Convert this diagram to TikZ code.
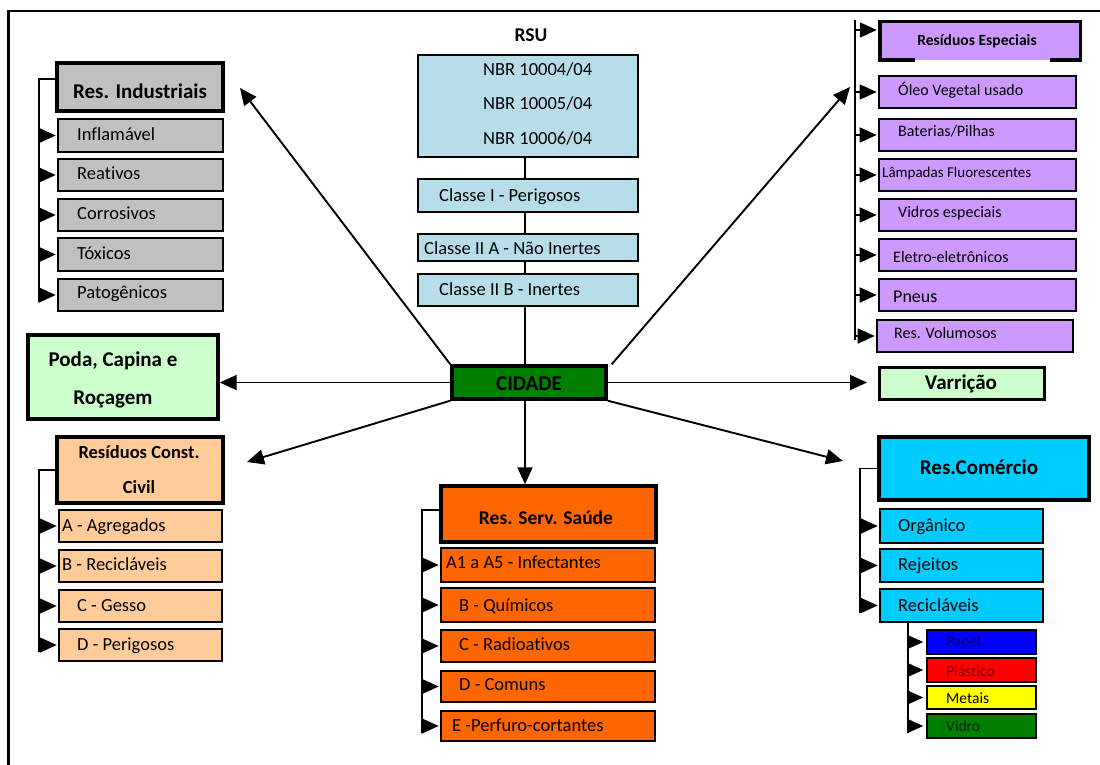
\documentclass[tikz,border=0pt]{standalone}
\usepackage{fontspec}
\setmainfont{Carlito}[Ligatures=NoCommon]
\usetikzlibrary{arrows.meta}
\definecolor{cgray}{HTML}{C0C0C0}
\definecolor{cnbr}{HTML}{B7DEE8}
\definecolor{cgreen}{HTML}{008000}
\definecolor{clgreen}{HTML}{CCFFCC}
\definecolor{cpeach}{HTML}{FFCC99}
\definecolor{corange}{HTML}{FF6600}
\definecolor{cpurple}{HTML}{CC99FF}
\definecolor{ccyan}{HTML}{00CCFF}
\definecolor{cblue}{HTML}{0000FF}
\definecolor{cred}{HTML}{FF0000}
\definecolor{cyellow}{HTML}{FFFF00}
\definecolor{cnavy}{HTML}{00005A}
\definecolor{cdred}{HTML}{700000}
\definecolor{cdgreen}{HTML}{002200}
\newcommand\fr{\fontsize{18.5}{22}\selectfont}
\newcommand\fs{\fontsize{16}{19}\selectfont}
\newcommand\fb{\bfseries\fontsize{21}{25}\selectfont}
\newcommand\mkbox[6]{\node[#6, minimum width=#4pt-#2pt, minimum height=#5pt-#3pt] (#1) at ({(#2+#4)/2},{(#3+#5)/2}) {};}
\newcommand\ltxt[5]{\node[anchor=base west, inner sep=0pt, font=#5] (#1) at (#2,#3) {#4};}
\newcommand\ctxt[5]{\node[anchor=base, inner sep=0pt, font=#5] (#1) at (#2,#3) {#4};}
\tikzset{
  thinbox/.style={draw=black, line width=1.6pt, inner sep=0pt},
  thickbox/.style={draw=black, line width=3.4pt, inner sep=0pt},
  conn/.style={line width=1.9pt, -{Triangle[length=17pt,width=15pt]}},
  brk/.style={line width=1.8pt},
  brarr/.style={line width=1.8pt, -{Triangle[length=17pt,width=15pt]}, shorten >=1.5pt},
  brsmall/.style={line width=1.8pt, -{Triangle[length=16pt,width=14pt]}, shorten >=3pt}
}
\begin{document}
\begin{tikzpicture}[x=1pt,y=-1pt]
\useasboundingbox (0,0) rectangle (1100,765);
\fill[white] (0,0) rectangle (1100,765);
% frame
\draw[line width=2.6pt] (8.5,765) -- (8.5,11) -- (1100,11);

% ---------- Res. Industriais ----------
\mkbox{ind}{57}{63}{223}{111}{thickbox,fill=cgray}
\ctxt{tind}{140}{99}{Res. Industriais}{\fb}
\mkbox{i1}{58}{119}{223}{152}{thinbox,fill=cgray}
\ltxt{ti1}{77}{141}{Inflamável}{\fr}
\mkbox{i2}{58}{159}{223}{191}{thinbox,fill=cgray}
\ltxt{ti2}{77}{179}{Reativos}{\fr}
\mkbox{i3}{58}{199}{223}{231}{thinbox,fill=cgray}
\ltxt{ti3}{77}{219}{Corrosivos}{\fr}
\mkbox{i4}{58}{238}{223}{271}{thinbox,fill=cgray}
\ltxt{ti4}{77}{259}{Tóxicos}{\fr}
\mkbox{i5}{58}{279}{223}{311}{thinbox,fill=cgray}
\ltxt{ti5}{77}{298}{Patogênicos}{\fr}
\coordinate (bind) at (39,302);
\draw[brk] ([yshift=8pt]ind.west) -| (bind);
\foreach \n in {i1,i2,i3,i4,i5}{\draw[brarr] (bind |- \n.west) -- (\n.west);}

% ---------- Poda ----------
\mkbox{poda}{28}{335}{218}{419}{thickbox,fill=clgreen}
\ctxt{tpoda1}{113}{366}{Poda, Capina e}{\fb}
\ctxt{tpoda2}{113}{404}{Roçagem}{\fb}

% ---------- Const. Civil ----------
\mkbox{rcc}{57}{437}{223}{503}{thickbox,fill=cpeach}
\ctxt{trcc1}{139}{458}{Resíduos Const.}{\bfseries\fontsize{18.5}{22}\selectfont}
\ctxt{trcc2}{139}{493}{Civil}{\bfseries\fontsize{18.5}{22}\selectfont}
\mkbox{c1}{59}{510}{222}{542}{thinbox,fill=cpeach}
\ltxt{tc1}{62}{531}{A - Agregados}{\fr}
\mkbox{c2}{59}{550}{222}{582}{thinbox,fill=cpeach}
\ltxt{tc2}{62}{570}{B - Recicláveis}{\fr}
\mkbox{c3}{59}{590}{222}{622}{thinbox,fill=cpeach}
\ltxt{tc3}{77}{611}{C - Gesso}{\fr}
\mkbox{c4}{59}{629}{222}{661}{thinbox,fill=cpeach}
\ltxt{tc4}{77}{650}{D - Perigosos}{\fr}
\coordinate (bcc) at (39,652);
\draw[brk] (rcc.west) -| (bcc);
\foreach \n in {c1,c2,c3,c4}{\draw[brarr] (bcc |- \n.west) -- (\n.west);}

% ---------- RSU ----------
\ctxt{trsu}{531}{41.7}{RSU}{\bfseries\fontsize{19.5}{23}\selectfont}
\mkbox{nbr}{418}{55}{638}{157}{thinbox,fill=cnbr}
\ltxt{tn1}{483}{76}{NBR 10004/04}{\fr}
\ltxt{tn2}{483}{110}{NBR 10005/04}{\fr}
\ltxt{tn3}{483}{145}{NBR 10006/04}{\fr}
\mkbox{cid}{452}{366}{606}{399}{thickbox,fill=cgreen}
\ctxt{tcid}{529}{390}{CIDADE}{\fb}
\draw[brk] ([xshift=-3pt]nbr.south) -- ([xshift=-3pt]nbr.south |- cid.north);
\mkbox{k1}{418}{179}{638}{212}{thinbox,fill=cnbr}
\ltxt{tk1}{439}{201.7}{Classe I - Perigosos}{\fr}
\mkbox{k2}{418}{234}{638}{261}{thinbox,fill=cnbr}
\ltxt{tk2}{424}{254}{Classe II A - Não Inertes}{\fr}
\mkbox{k3}{418}{274}{638}{306}{thinbox,fill=cnbr}
\ltxt{tk3}{439}{295}{Classe II B - Inertes}{\fr}

% ---------- Serv. Saude ----------
\mkbox{sau}{441}{486}{656}{542}{thickbox,fill=corange}
\ctxt{tsau}{546}{524}{Res. Serv. Saúde}{\bfseries\fontsize{19.5}{23}\selectfont}
\mkbox{s1}{441}{548}{655}{582}{thinbox,fill=corange}
\ltxt{ts1}{446}{568}{A1 a A5 - Infectantes}{\fr}
\mkbox{s2}{441}{588}{655}{622}{thinbox,fill=corange}
\ltxt{ts2}{459}{611.7}{B - Químicos}{\fr}
\mkbox{s3}{441}{630}{655}{662}{thinbox,fill=corange}
\ltxt{ts3}{459}{650}{C - Radioativos}{\fr}
\mkbox{s4}{441}{671}{655}{702}{thinbox,fill=corange}
\ltxt{ts4}{459}{690}{D - Comuns}{\fr}
\mkbox{s5}{441}{711}{655}{741}{thinbox,fill=corange}
\ltxt{ts5}{452}{731.7}{E -Perfuro-cortantes}{\fr}
\coordinate (bsau) at (422,733);
\draw[brk] ([yshift=4pt]sau.west) -| (bsau);
\foreach \n in {s1,s2,s3,s4,s5}{\draw[brarr] (bsau |- \n.west) -- (\n.west);}

% ---------- Residuos Especiais ----------
\mkbox{esp}{880}{22}{1080}{60}{inner sep=0pt,fill=cpurple}
\draw[line width=3.4pt] ([xshift=35pt]esp.south west) -- (esp.south west) -- (esp.north west) -- (esp.north east) -- (esp.south east) -- ([xshift=-30pt]esp.south east);
\ctxt{tesp}{977}{46}{Resíduos Especiais}{\bfseries\fontsize{15.6}{19}\selectfont}
\mkbox{p1}{879}{76}{1076}{108}{thinbox,fill=cpurple}
\ltxt{tp1}{898}{96}{Óleo Vegetal usado}{\fs}
\mkbox{p2}{879}{119}{1076}{151}{thinbox,fill=cpurple}
\ltxt{tp2}{898}{137}{Baterias/Pilhas}{\fs}
\mkbox{p3}{879}{159}{1076}{191}{thinbox,fill=cpurple}
\ltxt{tp3}{882}{177}{Lâmpadas Fluorescentes}{\fontsize{15}{18}\selectfont}
\mkbox{p4}{879}{199}{1076}{231}{thinbox,fill=cpurple}
\ltxt{tp4}{898}{217}{Vidros especiais}{\fs}
\mkbox{p5}{879}{239}{1076}{271}{thinbox,fill=cpurple}
\ltxt{tp5}{893}{262}{Eletro-eletrônicos}{\fs}
\mkbox{p6}{879}{279}{1076}{311}{thinbox,fill=cpurple}
\ltxt{tp6}{893}{302}{Pneus}{\fontsize{18}{21}\selectfont}
\mkbox{p7}{877}{320}{1073}{352}{thinbox,fill=cpurple}
\ltxt{tp7}{894}{338}{Res. Volumosos}{\fs}
\coordinate (besp1) at (855,20);
\coordinate (besp2) at (855,340);
\draw[brk] (besp1) -- (besp2);
\draw[brarr, shorten >=3pt] (besp1 |- 0,30) -- ([yshift=11pt]esp.west);
\foreach \n in {p1,p2,p3,p4,p5,p6,p7}{\draw[brarr] (besp1 |- \n.west) -- (\n.west);}

% ---------- Varricao ----------
\mkbox{var}{879}{367}{1044}{399}{thickbox,line width=3pt,fill=clgreen}
\ctxt{tvar}{961}{389}{Varrição}{\fb}

% ---------- Comercio ----------
\mkbox{com}{879}{437}{1089}{500}{thickbox,fill=ccyan}
\ctxt{tcom}{979}{474}{Res.Comércio}{\fb}
\mkbox{m1}{880}{509}{1043}{543}{thinbox,fill=ccyan}
\ltxt{tm1}{898}{531}{Orgânico}{\fr}
\mkbox{m2}{880}{549}{1043}{582}{thinbox,fill=ccyan}
\ltxt{tm2}{898}{570}{Rejeitos}{\fr}
\mkbox{m3}{880}{589}{1043}{622}{thinbox,fill=ccyan}
\ltxt{tm3}{898}{611}{Recicláveis}{\fr}
\coordinate (bcom) at (860,613);
\draw[brk] (com.west) -| (bcom);
\foreach \n in {m1,m2,m3}{\draw[brarr] (bcom |- \n.west) -- (\n.west);}
\mkbox{r1}{927}{630}{1036}{654}{thinbox,fill=cblue}
\ltxt{tr1}{946}{646.7}{Papel}{\fontsize{15.5}{18}\selectfont\color{cnavy}}
\mkbox{r2}{927}{658}{1036}{682}{thinbox,fill=cred}
\ltxt{tr2}{946}{676}{Plástico}{\fontsize{15.5}{18}\selectfont\color{cdred}}
\mkbox{r3}{927}{686}{1036}{709}{thinbox,fill=cyellow}
\ltxt{tr3}{946}{703.3}{Metais}{\fontsize{15.5}{18}\selectfont}
\mkbox{r4}{927}{714}{1036}{738}{thinbox,fill=cgreen}
\ltxt{tr4}{946}{731.7}{Vidro}{\fontsize{15.5}{18}\selectfont\color{cdgreen}}
\coordinate (brec) at (908,733);
\draw[brk] (brec |- m3.south) -- (brec);
\foreach \n in {r1,r2,r3,r4}{\draw[brsmall] (brec |- \n.west) -- (\n.west);}

% ---------- main connectors ----------
\coordinate (tInd) at (240,88);
\coordinate (tConst) at (247,462);
\coordinate (tEsp) at (850,87);
\coordinate (tVar) at (867,382.5);
\coordinate (tCom) at (843,461);
\draw[conn] (cid.north west) -- (tInd);
\draw[conn] (cid.west) -- (cid.west -| poda.east);
\draw[conn] (cid.south west) -- (tConst);
\draw[conn] ([xshift=-4pt]cid.south) -- ([xshift=-4pt]cid.south |- sau.north);
\draw[conn] ([xshift=4pt]cid.north east) -- (tEsp);
\draw[conn] (cid.east) -- (tVar);
\draw[conn] (cid.south east) -- (tCom);
\end{tikzpicture}
\end{document}
